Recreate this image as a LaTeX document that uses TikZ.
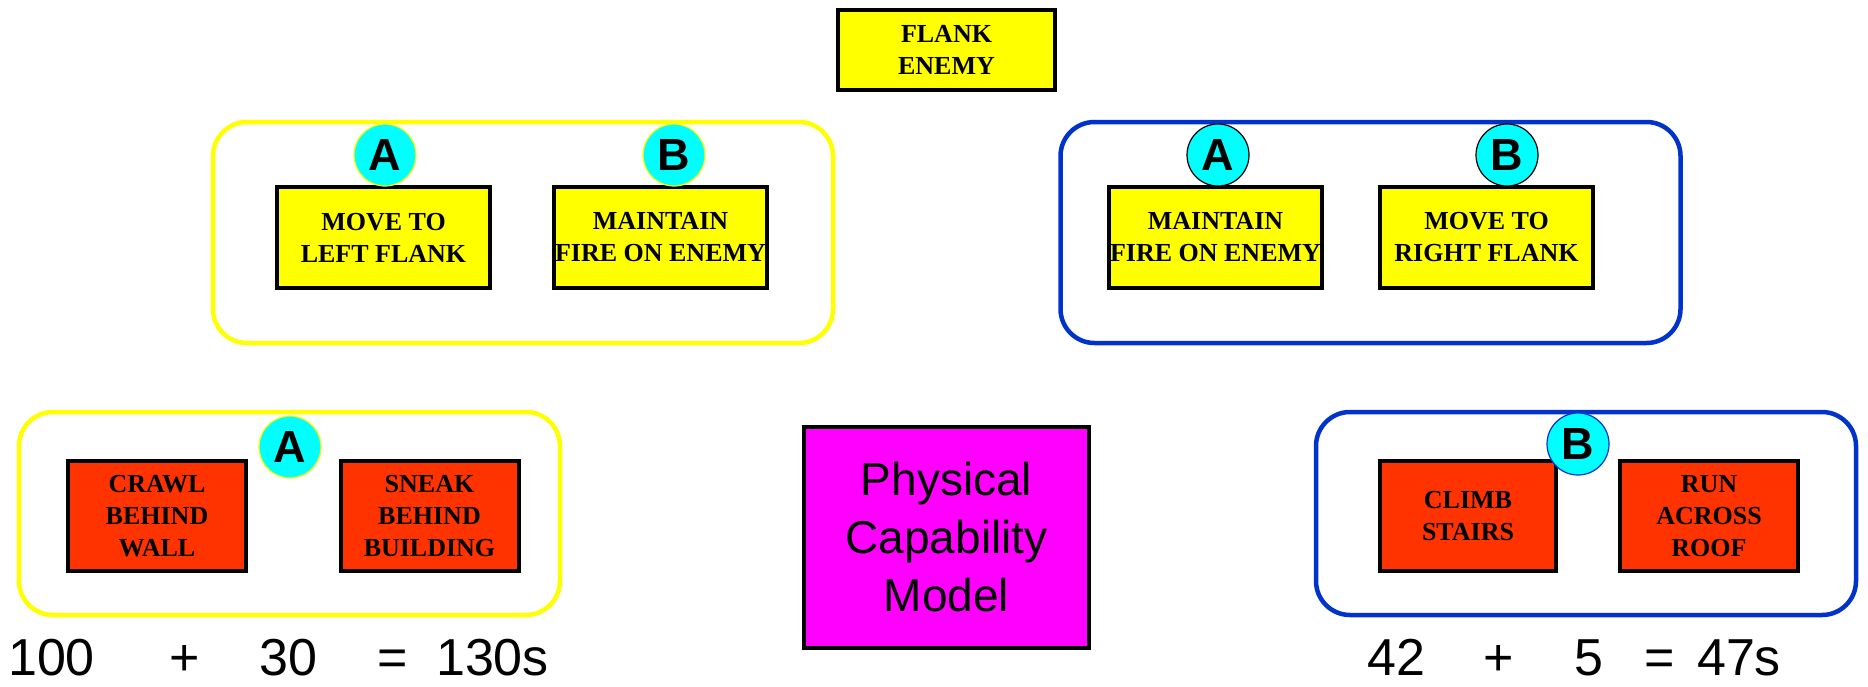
\documentclass[tikz,border=0pt]{standalone}
\usepackage{fontspec}
\setmainfont{Liberation Serif}
\setsansfont{Liberation Sans}

\definecolor{taskyellow}{HTML}{FFFF00}
\definecolor{actred}{HTML}{FF3300}
\definecolor{modelpink}{HTML}{FF00FF}
\definecolor{teamblue}{HTML}{0033CC}
\definecolor{tagcyan}{HTML}{00FFFF}

\tikzset{
	taskbox/.style={draw=black,line width=4pt,fill=taskyellow,align=center,inner sep=0pt,
		minimum width=213pt,minimum height=101pt,font=\fontsize{26}{32}\selectfont\bfseries},
	actbox/.style={taskbox,fill=actred,minimum width=178pt,minimum height=110pt},
	teamgroup/.style={rounded corners=34pt,line width=4.5pt,minimum width=620pt,minimum height=221pt,inner sep=0pt},
	tag/.style={circle,fill=tagcyan,line width=1.2pt,minimum size=62pt,inner sep=0pt,
		font=\sffamily\bfseries\fontsize{45}{45}\selectfont},
	sumtext/.style={anchor=base,inner sep=0pt,font=\sffamily\fontsize{52}{52}\selectfont}
}

\begin{document}
\begin{tikzpicture}[x=1pt,y=-1pt]

		\useasboundingbox (0,0) rectangle (1868,686);

		% Top goal
		\node[taskbox,minimum width=217pt,minimum height=80pt] (flank) at (946.5,50) {FLANK\\ENEMY};

		% Team groups, upper row
		\node[teamgroup,draw=taskyellow] (grpL) at (523,232.5) {};
		\node[teamgroup,draw=teamblue] (grpR) at (1370.5,232.5) {};

		\node[taskbox] (moveL) at (383.5,237.5) {MOVE TO\\LEFT FLANK};
		\node[taskbox] (fireL) at (660.5,237.5) {MAINTAIN\\FIRE ON ENEMY};
		\node[taskbox] (fireR) at (1215.5,237.5) {MAINTAIN\\FIRE ON ENEMY};
		\node[taskbox] (moveR) at (1486.5,237.5) {MOVE TO\\RIGHT FLANK};

		\node[tag,draw=taskyellow] (tagLA) at (385,155) {A};
		\node[tag,draw=taskyellow] (tagLB) at (674,155) {B};
		\node[tag,draw=black] (tagRA) at (1218,155) {A};
		\node[tag,draw=black] (tagRB) at (1507,155) {B};

		% Lower row: the two routes
		\node[teamgroup,draw=taskyellow,minimum width=541pt,minimum height=203pt] (routeL) at (289.5,513.5) {};
		\node[teamgroup,draw=teamblue,minimum width=540pt,minimum height=203pt] (routeR) at (1586,513.5) {};

		\node[actbox] (crawl) at (157,516) {CRAWL\\BEHIND\\WALL};
		\node[actbox] (sneak) at (429.5,516) {SNEAK\\BEHIND\\BUILDING};
		\node[actbox,minimum width=176pt] (climb) at (1468,516) {CLIMB\\STAIRS};
		\node[actbox] (run) at (1709,516) {RUN\\ACROSS\\ROOF};

		\node[tag,draw=taskyellow] (tagA) at (290,447) {A};
		\node[tag,draw=teamblue] (tagB) at (1578,444) {B};

		% Model in the middle
		\node[draw=black,line width=4pt,fill=modelpink,align=center,inner sep=0pt,
			minimum width=285pt,minimum height=221pt,
			font=\sffamily\fontsize{46}{58}\selectfont] (model) at (946.5,537.5) {Physical\\Capability\\Model};

		% Times
		\node[sumtext] (tL1) at (51.5,675) {100};
		\node[sumtext] (pL) at (185,675) {+};
		\node[sumtext] (tL2) at (288.5,675) {30};
		\node[sumtext] (eL) at (393,675) {=};
		\node[sumtext] (sL) at (492.5,675) {130s};

		\node[sumtext] (tR1) at (1396.5,675) {42};
		\node[sumtext] (pR) at (1499,675) {+};
		\node[sumtext] (tR2) at (1589,675) {5};
		\node[sumtext] (eR) at (1660,675) {=};
		\node[sumtext] (sR) at (1739,675) {47s};

\end{tikzpicture}
\end{document}
